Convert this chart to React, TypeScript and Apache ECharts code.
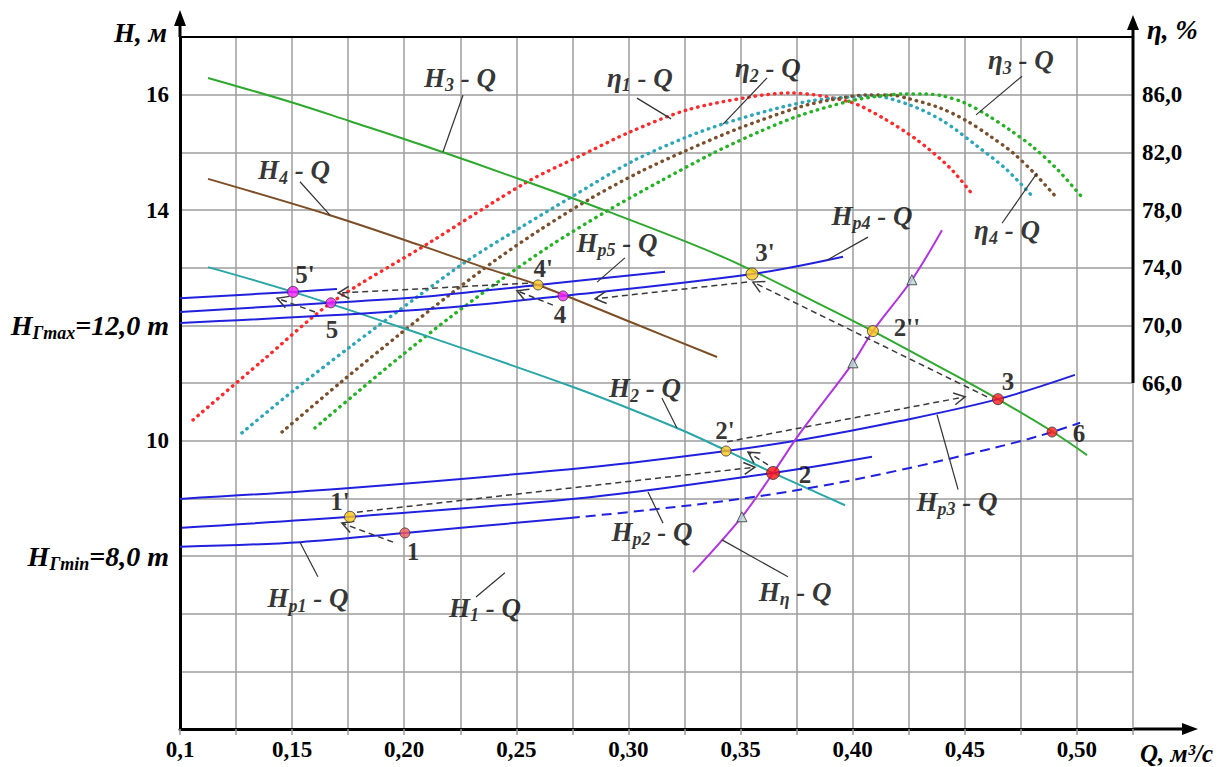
import React, { useEffect, useRef } from 'react';
import * as echarts from 'echarts';

const SERIF = '"Liberation Serif", "Times New Roman", serif';

// ---------- axes ----------
const Q_MIN = 0.1;
const Q_MAX = 0.525;
const Q_STEP = 0.025;
const H_MIN = 5;
const H_MAX = 17;
const H_STEP = 1;
const ETA_MIN = 42;
const ETA_MAX = 90;
const ETA_STEP = 4;
const ETA_AXIS_START = 66;

const Q_TICK_VALUES = [0.1, 0.15, 0.2, 0.25, 0.3, 0.35, 0.4, 0.45, 0.5];
const Q_TICK_TEXT = ['0,1', '0,15', '0,20', '0,25', '0,30', '0,35', '0,40', '0,45', '0,50'];
const H_TICK_VALUES = [16, 14, 12, 10, 8];
const H_TICK_TEXT = ['16', '14', '{m|H}{s|Γmax}{m|=12,0 m}', '10', '{m|H}{s|Γmin}{m|=8,0 m}'];
const ETA_TICK_VALUES = [86, 82, 78, 74, 70, 66];
const ETA_TICK_TEXT = ['86,0', '82,0', '78,0', '74,0', '70,0', '66,0'];

// ---------- pump curves H-Q ----------
const H3_Q = [0.1125, 0.1504, 0.1758, 0.207, 0.2547, 0.2904, 0.343, 0.3841, 0.409, 0.451, 0.4648, 0.4893, 0.5045];
const H3_H = [16.29, 15.86, 15.54, 15.14, 14.49, 13.98, 13.17, 12.39, 11.9, 11.02, 10.72, 10.15, 9.75];

const H4_Q = [0.1125, 0.1669, 0.207, 0.2351, 0.2597, 0.302, 0.3395];
const H4_H = [14.54, 13.91, 13.39, 13.01, 12.7, 12.04, 11.45];

const H2_Q = [0.1125, 0.1504, 0.1981, 0.2753, 0.3216, 0.343, 0.3645, 0.3845, 0.3966];
const H2_H = [13.01, 12.58, 11.97, 10.93, 10.22, 9.84, 9.44, 9.09, 8.88];

// ---------- network curves Hp-Q ----------
const HP1_Q = [0.1, 0.1535, 0.2003, 0.2739];
const HP1_H = [8.16, 8.24, 8.4, 8.66];
const H1_Q = [0.2739, 0.3096, 0.3497, 0.3854, 0.4211, 0.4478, 0.4746, 0.4889, 0.5014];
const H1_H = [8.66, 8.8, 8.99, 9.21, 9.49, 9.73, 9.99, 10.15, 10.31];

const HP2_Q = [0.1009, 0.1758, 0.2828, 0.3645, 0.4086];
const HP2_H = [8.49, 8.68, 9.02, 9.44, 9.72];

const HP3_Q = [0.1, 0.1758, 0.2828, 0.3435, 0.3765, 0.4211, 0.4648, 0.4991];
const HP3_H = [8.99, 9.18, 9.54, 9.82, 10.01, 10.34, 10.72, 11.14];

const HP6_Q = [0.1, 0.1504, 0.17];
const HP6_H = [12.47, 12.58, 12.63];

const HP5_Q = [0.1, 0.1673, 0.207, 0.2597, 0.3163];
const HP5_H = [12.23, 12.39, 12.49, 12.7, 12.93];

const HP4_Q = [0.1, 0.207, 0.2708, 0.3551, 0.3957];
const HP4_H = [12.04, 12.27, 12.51, 12.89, 13.19];

const HETA_Q = [0.3288, 0.3506, 0.3645, 0.3765, 0.4001, 0.409, 0.4264, 0.4398];
const HETA_H = [7.72, 8.68, 9.44, 10.13, 11.35, 11.9, 12.79, 13.65];

const TRI_Q = [0.3506, 0.4001, 0.4264];
const TRI_H = [8.68, 11.35, 12.79];

// ---------- efficiency curves eta-Q (%) ----------
const ETA1_Q = [0.1058, 0.1366, 0.1673, 0.211, 0.2547, 0.2775, 0.3007, 0.3261, 0.3542, 0.372, 0.3988, 0.4135, 0.4287, 0.4434, 0.4536];
const ETA1_V = [63.44, 67.53, 71.55, 75.71, 79.94, 81.68, 83.41, 84.94, 85.84, 86.12, 85.49, 84.38, 82.86, 80.92, 79.04];

const ETA2_Q = [0.1276, 0.1504, 0.1758, 0.2057, 0.228, 0.2516, 0.2753, 0.302, 0.3261, 0.3422, 0.3618, 0.3809, 0.3988, 0.409, 0.4255, 0.4403, 0.4554, 0.4688, 0.4804];
const ETA2_V = [62.54, 65.45, 68.5, 71.96, 74.47, 76.76, 78.97, 81.4, 83.07, 83.97, 84.87, 85.56, 85.84, 85.91, 85.28, 84.17, 82.44, 80.78, 78.9];

const ETA4_Q = [0.1455, 0.1714, 0.1981, 0.2204, 0.2414, 0.2605, 0.2828, 0.3051, 0.3252, 0.3497, 0.3765, 0.3899, 0.4064, 0.4166, 0.4255, 0.4389, 0.451, 0.4612, 0.4715, 0.4813, 0.4911];
const ETA4_V = [62.6, 66.01, 69.4, 72.14, 74.6, 76.62, 78.77, 80.64, 82.09, 83.69, 85.15, 85.63, 85.98, 85.98, 85.7, 85.08, 84.17, 83.13, 81.96, 80.5, 78.83];

const ETA3_Q = [0.1602, 0.1803, 0.1981, 0.2204, 0.2427, 0.265, 0.2904, 0.3141, 0.3377, 0.3587, 0.3765, 0.3988, 0.4122, 0.4233, 0.4322, 0.4403, 0.4501, 0.4599, 0.4701, 0.4804, 0.4915, 0.5022];
const ETA3_V = [62.89, 65.52, 67.81, 70.55, 73.11, 75.51, 77.93, 79.99, 81.94, 83.45, 84.56, 85.56, 85.91, 86.05, 86.05, 85.91, 85.42, 84.59, 83.55, 82.37, 80.78, 78.9];

// ---------- operating points ----------
const POINT_NAMES = ['1', "1'", '2', "2'", "2''", '3', "3'", '4', "4'", '5', "5'", '6'];
const POINT_Q = [0.2003, 0.1758, 0.3645, 0.3435, 0.409, 0.4648, 0.3551, 0.2708, 0.2597, 0.1673, 0.1504, 0.4889];
const POINT_H = [8.4, 8.68, 9.44, 9.82, 11.9, 10.72, 12.89, 12.51, 12.7, 12.39, 12.58, 10.15];

// transitions between points (from Q,H -> to Q,H)
const ARROW_FROM_Q = [0.195, 0.1789, 0.3622, 0.3439, 0.4599, 0.3529, 0.2663, 0.2552, 0.1602];
const ARROW_FROM_H = [8.24, 8.76, 9.58, 9.98, 10.76, 12.75, 12.35, 12.73, 12.23];
const ARROW_TO_Q = [0.1722, 0.3564, 0.3533, 0.4501, 0.3555, 0.2851, 0.2503, 0.1705, 0.1433];
const ARROW_TO_H = [8.57, 9.54, 9.8, 10.76, 12.75, 12.46, 12.6, 12.56, 12.47];

// ---------- curve captions ----------
const CAPTION_TEXT = [
  '{m|H}{s|3}{m| - Q}', '{m|η}{s|1}{m| - Q}', '{m|η}{s|2}{m| - Q}', '{m|η}{s|3}{m| - Q}', '{m|η}{s|4}{m| - Q}',
  '{m|H}{s|4}{m| - Q}', '{m|H}{s|p4}{m| - Q}', '{m|H}{s|p5}{m| - Q}', '{m|H}{s|2}{m| - Q}', '{m|H}{s|p3}{m| - Q}',
  '{m|H}{s|p2}{m| - Q}', '{m|H}{s|p1}{m| - Q}', '{m|H}{s|1}{m| - Q}', '{m|H}{s|η}{m| - Q}',
];
const CAPTION_Q = [0.2249, 0.3051, 0.3622, 0.475, 0.4688, 0.1508, 0.4086, 0.2949, 0.3074, 0.4465, 0.3105, 0.1571, 0.236, 0.3743];
const CAPTION_H = [16.29, 16.29, 16.46, 16.6, 13.65, 14.69, 13.9, 13.43, 10.91, 8.94, 8.42, 7.27, 7.1, 7.38];
// leader lines (caption -> curve)
const LEADER_FROM_Q = [0.2262, 0.3038, 0.3618, 0.4755, 0.4666, 0.1535, 0.4068, 0.2984, 0.3149, 0.447, 0.3154, 0.1615, 0.232, 0.3711];
const LEADER_FROM_H = [15.99, 15.94, 16.29, 16.32, 13.77, 14.49, 13.53, 13.17, 10.74, 9.15, 8.57, 7.64, 7.29, 7.64];
const LEADER_TO_Q = [0.2173, 0.319, 0.3422, 0.455, 0.4822, 0.1669, 0.3885, 0.286, 0.3216, 0.4376, 0.3087, 0.1535, 0.2449, 0.3417];
const LEADER_TO_H = [15.01, 15.58, 15.49, 15.65, 14.64, 13.91, 13.13, 12.75, 10.22, 10.45, 9.11, 8.24, 7.71, 8.28];

// ---------- styles (kept apart from data) ----------
const C_GREEN = '#2ea82e';
const C_BROWN = '#7d4e26';
const C_TEAL = '#2aa6a8';
const C_BLUE = '#2121dd';
const C_PURPLE = '#b035dd';
const C_RED_DOT = '#ff2b2b';
const C_TEAL_DOT = '#2fa6b8';
const C_BROWN_DOT = '#7a4f2c';
const C_GREEN_DOT = '#25b225';
const GRID_COLOR = '#9c9c9c';

const POINT_COLORS = ['#f25a5a', '#ffc61a', '#ff1010', '#ffc61a', '#ffc61a', '#ff1a1a', '#ffc61a', '#ff22ff', '#ffc61a', '#ff22ff', '#ff22ff', '#ff1a1a'];
const POINT_SIZES = [10, 11, 13, 10, 11, 11, 12, 10, 10, 10, 11, 10];
const POINT_LABEL_OFFSETS = [[8, 19], [-10, -15], [32, 2], [-1, -21], [34, -4], [10, -18], [13, -22], [-3, 19], [5, -16], [1, 27], [12, -17], [27, 1]];

const LAYOUT = { left: 180, top: 37, right: 97, bottom: 38, width: 1230, height: 767 };

const zip = (q: number[], v: number[]) => q.map((x, i) => [x, v[i]]);

const pickLabel = (values: number[], texts: string[]) => (v: number) => {
  const i = values.findIndex((t) => Math.abs(t - v) < 1e-6);
  return i >= 0 ? texts[i] : '';
};

const CAPTION_RICH = {
  m: { fontFamily: SERIF, fontSize: 27, fontStyle: 'italic', fontWeight: 'bold', color: '#000', textBorderWidth: 0 },
  s: { fontFamily: SERIF, fontSize: 18, fontStyle: 'italic', fontWeight: 'bold', color: '#000', textBorderWidth: 0, padding: [15, 0, 0, 0] },
};

function lineSeries(q: number[], v: number[], color: string, opts: any = {}) {
  return {
    type: 'line',
    data: zip(q, v),
    yAxisIndex: opts.yAxisIndex ?? 0,
    symbol: 'none',
    showSymbol: false,
    smooth: opts.smooth ?? 0.35,
    silent: true,
    z: opts.z ?? 2,
    lineStyle: { color, width: opts.width ?? 2, type: opts.type ?? 'solid', cap: opts.cap ?? 'butt' },
  };
}

function dottedEta(q: number[], v: number[], color: string) {
  return lineSeries(q, v, color, { yAxisIndex: 1, width: 3.4, type: [0.5, 6], cap: 'round', z: 1, smooth: 0.3 });
}

export default function App() {
  const ref = useRef<HTMLDivElement>(null);

  useEffect(() => {
    if (!ref.current) return;
    const chart = echarts.init(ref.current, null, { renderer: 'svg', width: LAYOUT.width, height: LAYOUT.height });
    const plotRight = LAYOUT.width - LAYOUT.right;
    const plotBottom = LAYOUT.height - LAYOUT.bottom;

    const tickLabelStyle = { fontFamily: SERIF, fontSize: 23, fontWeight: 'bold', color: '#000' };

    const option: any = {
      animation: false,
      backgroundColor: '#fff',
      grid: { left: LAYOUT.left, top: LAYOUT.top, right: LAYOUT.right, bottom: LAYOUT.bottom, containLabel: false },
      xAxis: [
        {
          type: 'value', min: Q_MIN, max: Q_MAX, interval: Q_STEP, position: 'bottom',
          axisLine: { show: true, onZero: false, lineStyle: { color: '#000', width: 3 } },
          axisTick: { show: true, length: 6, lineStyle: { color: GRID_COLOR, width: 1.5 } },
          axisLabel: { ...tickLabelStyle, margin: 9, formatter: pickLabel(Q_TICK_VALUES, Q_TICK_TEXT), showMinLabel: true, showMaxLabel: true },
          splitLine: { show: true, lineStyle: { color: GRID_COLOR, width: 1.5 } },
        },
        {
          type: 'value', min: Q_MIN, max: Q_MAX, interval: Q_STEP, position: 'top',
          axisLine: { show: true, onZero: false, lineStyle: { color: '#000', width: 2 } },
          axisTick: { show: false }, axisLabel: { show: false }, splitLine: { show: false },
        },
      ],
      yAxis: [
        {
          type: 'value', min: H_MIN, max: H_MAX, interval: H_STEP, position: 'left',
          axisLine: { show: true, onZero: false, lineStyle: { color: '#000', width: 3 } },
          axisTick: { show: false },
          axisLabel: {
            ...tickLabelStyle, margin: 11, formatter: pickLabel(H_TICK_VALUES, H_TICK_TEXT),
            rich: {
              m: { fontFamily: SERIF, fontSize: 28, fontStyle: 'italic', fontWeight: 'bold', color: '#000' },
              s: { fontFamily: SERIF, fontSize: 18, fontStyle: 'italic', fontWeight: 'bold', color: '#000', padding: [15, 0, 0, 0] },
            },
          },
          splitLine: { show: true, lineStyle: { color: GRID_COLOR, width: 1.5 } },
        },
        {
          type: 'value', min: ETA_MIN, max: ETA_MAX, interval: ETA_STEP, position: 'right',
          axisLine: { show: false }, axisTick: { show: false },
          axisLabel: { ...tickLabelStyle, margin: 9, formatter: pickLabel(ETA_TICK_VALUES, ETA_TICK_TEXT) },
          splitLine: { show: false },
        },
      ],
      series: [
        // efficiency curves
        dottedEta(ETA1_Q, ETA1_V, C_RED_DOT),
        dottedEta(ETA2_Q, ETA2_V, C_TEAL_DOT),
        dottedEta(ETA4_Q, ETA4_V, C_BROWN_DOT),
        dottedEta(ETA3_Q, ETA3_V, C_GREEN_DOT),
        // pump curves
        lineSeries(H3_Q, H3_H, C_GREEN),
        lineSeries(H4_Q, H4_H, C_BROWN),
        lineSeries(H2_Q, H2_H, C_TEAL),
        // network curves
        lineSeries(HP1_Q, HP1_H, C_BLUE),
        lineSeries(H1_Q, H1_H, C_BLUE, { type: [10, 6] }),
        lineSeries(HP2_Q, HP2_H, C_BLUE),
        lineSeries(HP3_Q, HP3_H, C_BLUE),
        lineSeries(HP6_Q, HP6_H, C_BLUE),
        lineSeries(HP5_Q, HP5_H, C_BLUE),
        lineSeries(HP4_Q, HP4_H, C_BLUE),
        lineSeries(HETA_Q, HETA_H, C_PURPLE),
        // right eta axis line (only from 66 % up)
        {
          type: 'line', yAxisIndex: 1, data: [[Q_MAX, ETA_AXIS_START], [Q_MAX, ETA_MAX]],
          symbol: 'none', silent: true, clip: false, z: 6,
          lineStyle: { color: '#000', width: 3 },
        },
        // leader lines
        {
          type: 'custom', silent: true, z: 3,
          encode: { x: [0, 2], y: [1, 3] },
          data: LEADER_FROM_Q.map((q, i) => [q, LEADER_FROM_H[i], LEADER_TO_Q[i], LEADER_TO_H[i]]),
          renderItem: (_p: any, api: any) => {
            const a = api.coord([api.value(0), api.value(1)]);
            const b = api.coord([api.value(2), api.value(3)]);
            return { type: 'line', shape: { x1: a[0], y1: a[1], x2: b[0], y2: b[1] }, style: { stroke: '#333', lineWidth: 1.2 } };
          },
        },
        // dashed transition arrows
        {
          type: 'custom', silent: true, z: 4,
          encode: { x: [0, 2], y: [1, 3] },
          data: ARROW_FROM_Q.map((q, i) => [q, ARROW_FROM_H[i], ARROW_TO_Q[i], ARROW_TO_H[i]]),
          renderItem: (_p: any, api: any) => {
            const a = api.coord([api.value(0), api.value(1)]);
            const b = api.coord([api.value(2), api.value(3)]);
            const dx = b[0] - a[0];
            const dy = b[1] - a[1];
            const len = Math.hypot(dx, dy) || 1;
            const ux = dx / len;
            const uy = dy / len;
            const L = 11;
            const Wd = 6;
            const bx = b[0] - ux * L;
            const by = b[1] - uy * L;
            return {
              type: 'group',
              children: [
                { type: 'line', shape: { x1: a[0], y1: a[1], x2: b[0], y2: b[1] }, style: { stroke: '#3a3a3a', lineWidth: 1.5, lineDash: [6, 4] } },
                {
                  type: 'polyline',
                  shape: { points: [[bx - uy * Wd, by + ux * Wd], [b[0], b[1]], [bx + uy * Wd, by - ux * Wd]] },
                  style: { stroke: '#3a3a3a', lineWidth: 1.5, fill: 'none' },
                },
              ],
            };
          },
        },
        // triangles on H_eta curve
        {
          type: 'scatter', silent: true, z: 5, symbol: 'triangle', symbolSize: 10,
          data: zip(TRI_Q, TRI_H),
          itemStyle: { color: '#bcd9d6', borderColor: '#333', borderWidth: 1 },
        },
        // operating points
        {
          type: 'scatter', silent: true, z: 7,
          data: POINT_Q.map((q, i) => ({
            value: [q, POINT_H[i]],
            symbolSize: POINT_SIZES[i],
            itemStyle: { color: POINT_COLORS[i], borderColor: '#333', borderWidth: 1 },
            label: { offset: POINT_LABEL_OFFSETS[i] },
          })),
          label: {
            show: true, position: 'inside', formatter: (p: any) => POINT_NAMES[p.dataIndex],
            fontFamily: SERIF, fontSize: 25, fontWeight: 'bold', color: '#000', textBorderWidth: 0,
          },
        },
        // curve captions
        {
          type: 'scatter', silent: true, z: 8, symbol: 'circle', symbolSize: 1,
          itemStyle: { color: 'rgba(0,0,0,0)' },
          data: zip(CAPTION_Q, CAPTION_H),
          label: {
            show: true, position: 'inside', formatter: (p: any) => CAPTION_TEXT[p.dataIndex],
            color: '#000', textBorderWidth: 0,
            rich: CAPTION_RICH,
          },
        },
      ],
      graphic: [
        { type: 'line', silent: true, shape: { x1: LAYOUT.left, y1: LAYOUT.top, x2: LAYOUT.left, y2: 22 }, style: { stroke: '#000', lineWidth: 3 } },
        { type: 'polygon', silent: true, shape: { points: [[LAYOUT.left, 10], [LAYOUT.left - 6, 26], [LAYOUT.left + 6, 26]] }, style: { fill: '#000' } },
        { type: 'line', silent: true, shape: { x1: plotRight, y1: LAYOUT.top, x2: plotRight, y2: 26 }, style: { stroke: '#000', lineWidth: 3 } },
        { type: 'polygon', silent: true, shape: { points: [[plotRight, 15], [plotRight - 6, 30], [plotRight + 6, 30]] }, style: { fill: '#000' } },
        { type: 'line', silent: true, shape: { x1: plotRight, y1: plotBottom, x2: 1185, y2: plotBottom }, style: { stroke: '#000', lineWidth: 3 } },
        { type: 'polygon', silent: true, shape: { points: [[1198, plotBottom], [1182, plotBottom - 6], [1182, plotBottom + 6]] }, style: { fill: '#000' } },
        {
          type: 'text', silent: true, x: 167, y: 33,
          style: { text: 'H, м', fontFamily: SERIF, fontSize: 27, fontStyle: 'italic', fontWeight: 'bold', fill: '#000', align: 'right', verticalAlign: 'middle' },
        },
        {
          type: 'text', silent: true, x: 1147, y: 30,
          style: { text: 'η, %', fontFamily: SERIF, fontSize: 27, fontStyle: 'italic', fontWeight: 'bold', fill: '#000', align: 'left', verticalAlign: 'middle' },
        },
        {
          type: 'text', silent: true, x: 1140, y: 753,
          style: { text: 'Q, м³/с', fontFamily: SERIF, fontSize: 25, fontStyle: 'italic', fontWeight: 'bold', fill: '#000', align: 'left', verticalAlign: 'middle' },
        },
      ],
    };

    chart.setOption(option);
    return () => chart.dispose();
  }, []);

  return (
    <div
      ref={ref}
      style={{ position: 'absolute', left: 0, top: 0, width: LAYOUT.width, height: LAYOUT.height, background: '#fff' }}
    />
  );
}
